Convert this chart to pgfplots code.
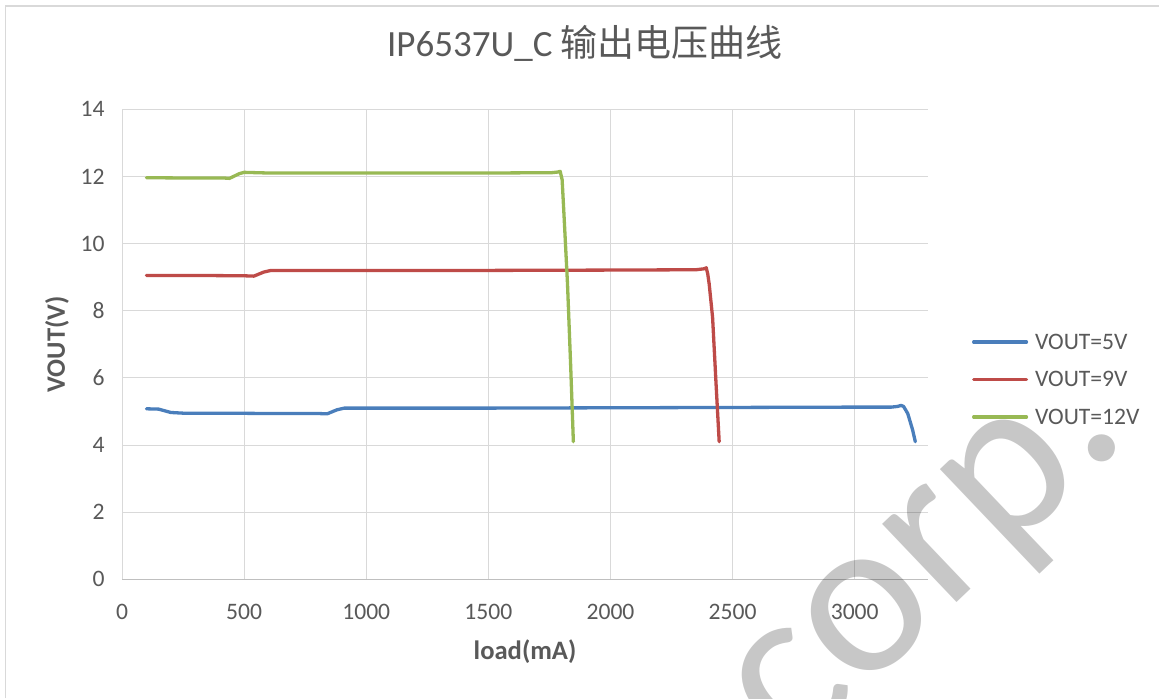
\documentclass[border=0pt]{standalone}
\usepackage{fontspec}
\setmainfont{Carlito}
\newfontfamily\cjk{Noto Sans CJK SC}
\usepackage{pgfplots}
\pgfplotsset{compat=1.18}
\definecolor{c5}{HTML}{4A7EBB}
\definecolor{c9}{HTML}{BE4B48}
\definecolor{c12}{HTML}{98B954}
\definecolor{txt}{HTML}{595959}
\definecolor{grd}{HTML}{D9D9D9}
\definecolor{axl}{HTML}{BFBFBF}
\begin{document}
\begin{tikzpicture}
\useasboundingbox (0,0) rectangle (579.5pt,349pt);
\draw[grd, line width=0.6pt] (2.75pt,0) -- (2.75pt,346pt) -- (579.5pt,346pt);
\begin{axis}[
  at={(61pt,59.3pt)}, anchor=south west,
  scale only axis, width=403pt, height=235.1pt,
  xmin=0, xmax=3300, ymin=0, ymax=14,
  xtick={0,500,1000,1500,2000,2500,3000},
  ytick={0,2,4,6,8,10,12,14},
  grid=major, major grid style={grd, line width=0.5pt},
  axis lines*=left, axis line style={-},
  x axis line style={axl, line width=0.6pt},
  y axis line style={grd, line width=0.5pt},
  major tick length=0pt,
  /pgf/number format/assume math mode=true,
  /pgf/number format/1000 sep={},
  tick label style={font=\fontsize{11.8pt}{14pt}\selectfont, text=txt},
  xticklabel style={anchor=north, inner sep=0pt, yshift=-12.3pt},
  yticklabel style={anchor=east, inner sep=0pt, xshift=-8.5pt},
  xlabel={load(mA)}, ylabel={VOUT(V)},
  xlabel style={at={(axis description cs:0.5,-0.1538)}, anchor=center, font=\fontsize{13.3pt}{16pt}\selectfont\bfseries, text=txt},
  ylabel style={at={(axis description cs:-0.0806,0.5)}, anchor=center, font=\fontsize{13.3pt}{16pt}\selectfont\bfseries, text=txt},
  title={IP6537U\_C {\cjk 输出电压曲线}},
  title style={at={(axis description cs:0.5744,1.0866)}, anchor=base, font=\fontsize{18.5pt}{22pt}\selectfont, text=txt},
  legend style={at={(axis description cs:1.0546,0.4256)}, anchor=west, draw=none, fill=none,
    inner sep=0pt, outer sep=0pt, row sep=11.15pt, column sep=3.5pt,
    font=\fontsize{11.8pt}{14pt}\selectfont, text=txt,
    nodes={inner sep=0pt, text height=7.6pt, text depth=0pt, anchor=base west}},
  legend cell align=left,
  legend image code/.code={\draw[#1, line cap=round] (0.8pt,3.7pt) -- (27.2pt,3.7pt);},
  every axis plot/.append style={line width=1.65pt, line join=round, line cap=round},
]
\addplot[c5] coordinates {
(100,5.08) (150,5.07) (200,4.97) (250,4.95) (400,4.95) (600,4.94) (800,4.94) (840,4.93)
(880,5.05) (910,5.1) (1000,5.1) (1500,5.1) (2000,5.11) (2500,5.12) (3000,5.13) (3150,5.13)
(3175,5.15) (3190,5.18) (3200,5.15) (3217,4.94) (3237,4.45) (3248,4.1)
};
\addplot[c9] coordinates {
(100,9.05) (300,9.05) (500,9.04) (540,9.03) (580,9.15) (610,9.2) (1000,9.2) (1500,9.2)
(2000,9.21) (2350,9.22) (2385,9.25) (2392,9.28) (2398,9.1) (2404,8.8) (2418,7.8) (2432,5.85) (2445,4.1)
};
\addplot[c12] coordinates {
(100,11.96) (300,11.95) (420,11.95) (440,11.94) (480,12.08) (500,12.12) (600,12.1) (1000,12.1)
(1500,12.1) (1760,12.11) (1785,12.13) (1794,12.15) (1802,11.9) (1810,10.8) (1824,8.8) (1837,6.35) (1848,4.1)
};
\legend{VOUT=5V, VOUT=9V, VOUT=12V}
\end{axis}
\node[overlay, anchor=base west, rotate=43.6, text=black, text opacity=0.22, inner sep=0pt,
  font=\fontsize{113pt}{113pt}\selectfont] at (396pt,-31pt) {corp.};
\end{tikzpicture}
\end{document}
